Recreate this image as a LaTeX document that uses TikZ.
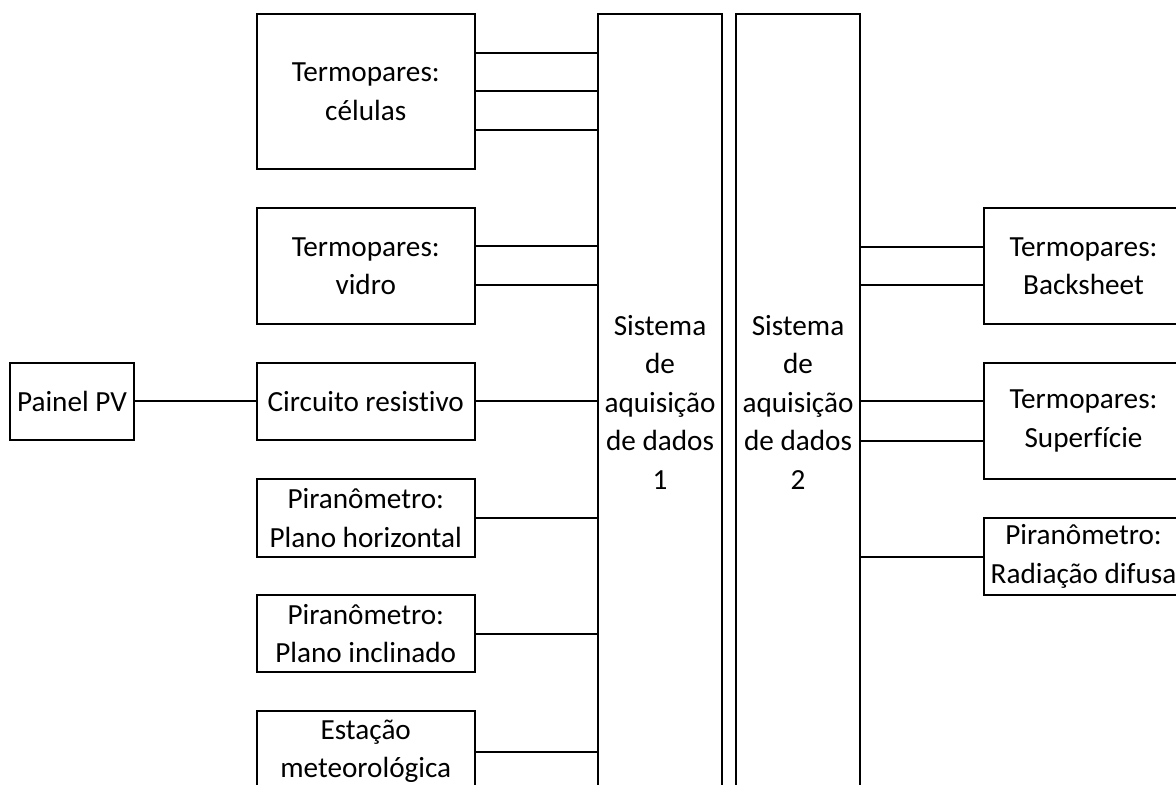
\documentclass[tikz,border=0pt]{standalone}
\usepackage{fontspec}
\setmainfont{Carlito}[Ligatures=NoCommon]
\begin{document}
\begin{tikzpicture}[x=0.5pt,y=-0.5pt,line width=1pt,
	caixa/.style={draw,inner sep=0pt,align=center,font=\fontsize{14.6}{19.25}\selectfont}]
	\useasboundingbox (0,0) rectangle (1176,785);
	\clip (0,0) rectangle (1176,785);
	% sistemas de aquisicao
	\node[caixa,minimum width=62pt,minimum height=388pt] (sis1) at (660,402) {Sistema\\de\\aquisição\\de dados\\1};
	\node[caixa,minimum width=62pt,minimum height=388pt] (sis2) at (798,402) {Sistema\\de\\aquisição\\de dados\\2};
	% lado esquerdo
	\node[caixa,minimum width=62pt,minimum height=38.5pt] (painel) at (72,401.5) {Painel PV};
	\node[caixa,minimum width=108.75pt,minimum height=77.5pt] (celulas) at (365.75,91.5) {Termopares:\\células};
	\node[caixa,minimum width=108.75pt,minimum height=58pt] (vidro) at (365.75,266) {Termopares:\\vidro};
	\node[caixa,minimum width=108.75pt,minimum height=38.5pt] (circuito) at (365.75,401.5) {Circuito resistivo};
	\node[caixa,minimum width=108.75pt,minimum height=39pt] (horizontal) at (365.75,518) {Piranômetro:\\Plano horizontal};
	\node[caixa,minimum width=108.75pt,minimum height=38.5pt] (inclinado) at (365.75,633.5) {Piranômetro:\\Plano inclinado};
	\node[caixa,minimum width=108.75pt,minimum height=40.5pt] (estacao) at (365.75,751.5) {Estação\\meteorológica};
	% lado direito
	\node[caixa,minimum width=99.5pt,minimum height=58pt] (backsheet) at (1083.5,266) {Termopares:\\Backsheet};
	\node[caixa,minimum width=99.5pt,minimum height=58pt] (superficie) at (1083.5,421) {Termopares:\\Superfície};
	\node[caixa,minimum width=99.5pt,minimum height=38.5pt] (difusa) at (1083.5,556.5) {Piranômetro:\\Radiação difusa};
	% ligacoes
	\draw (painel) -- (circuito);
	\foreach \d in {-19.25,0,19.25} \draw ([yshift=\d pt]celulas.east) coordinate (p) -- (p -| sis1.west);
	\foreach \d in {-9.75,9.75} \draw ([yshift=\d pt]vidro.east) coordinate (p) -- (p -| sis1.west);
	\draw (circuito.east) -- (circuito.east -| sis1.west);
	\draw (horizontal.east) -- (horizontal.east -| sis1.west);
	\draw (inclinado.east) -- (inclinado.east -| sis1.west);
	\draw (estacao.east) -- (estacao.east -| sis1.west);
	\foreach \d in {-9.5,9.5} \draw ([yshift=\d pt]backsheet.west) coordinate (p) -- (p -| sis2.east);
	\foreach \d in {-9.75,9.75} \draw ([yshift=\d pt]superficie.west) coordinate (p) -- (p -| sis2.east);
	\draw (difusa.west) -- (difusa.west -| sis2.east);
\end{tikzpicture}
\end{document}
